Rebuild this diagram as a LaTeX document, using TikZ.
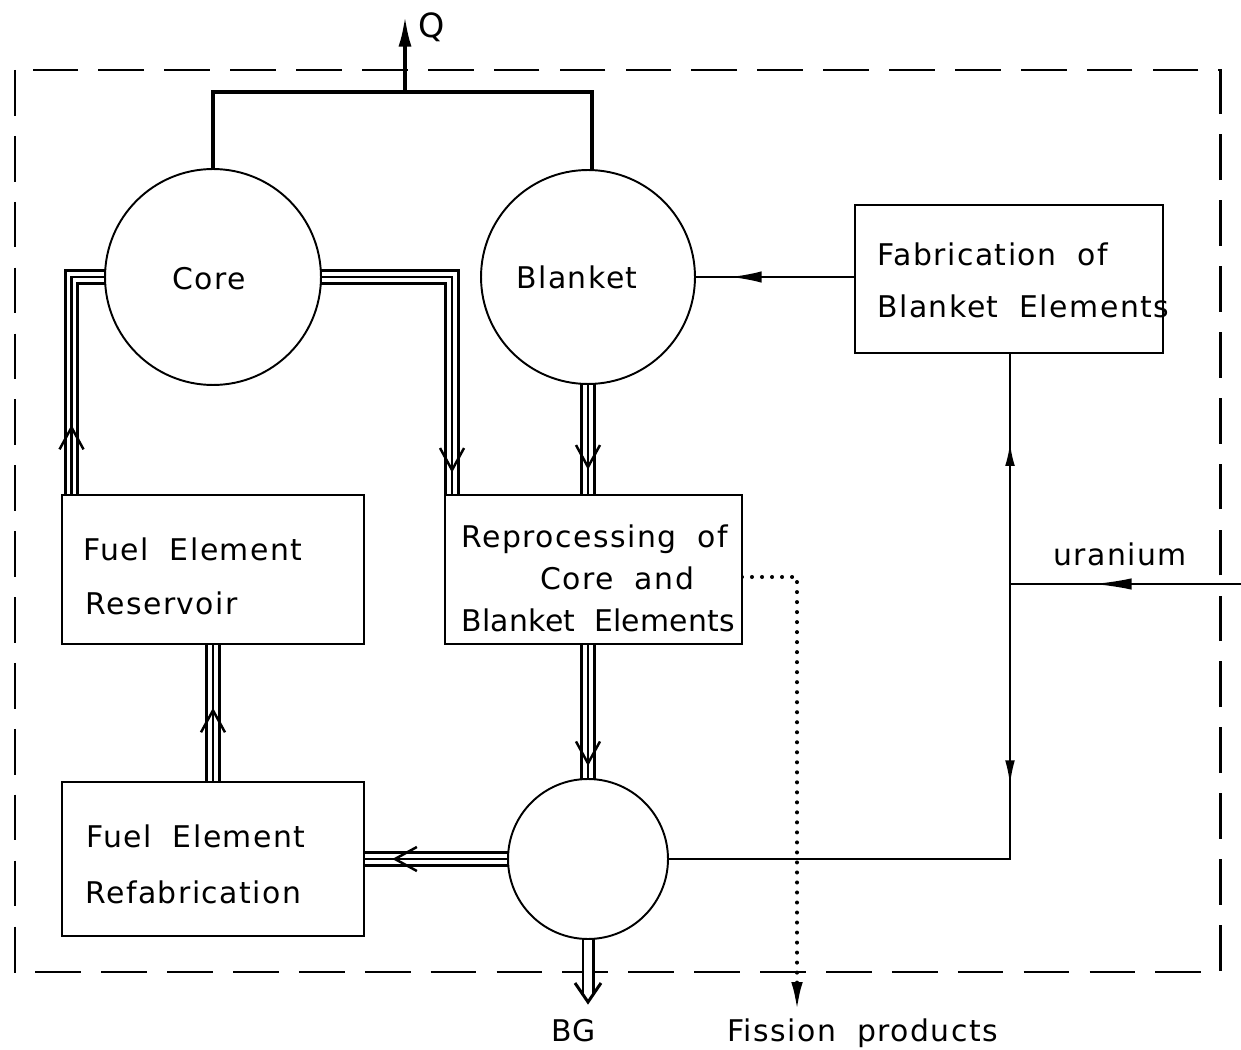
\documentclass[tikz,border=0pt]{standalone}
\usepackage{fontspec}
\setmainfont{DejaVu Sans}[WordSpace=1.9, LetterSpace=5]
\usetikzlibrary{arrows.meta,calc,decorations.markings}
\pgfdeclarelayer{bg}
\pgfsetlayers{bg,main}
\begin{document}
\begin{tikzpicture}[x=0.02cm, y=-0.02cm,
  lbl/.style={inner sep=0pt, anchor=base west, font=\fontsize{17pt}{20pt}\selectfont},
  box/.style={draw, fill=white, line width=1.4pt, rectangle, inner sep=0pt, outer sep=0pt},
  vessel/.style={draw, fill=white, line width=1.1pt, circle, inner sep=0pt, outer sep=0pt},
  heat/.style={line width=2.3pt},
  thinflow/.style={line width=1.3pt},
  triple/.style={line width=8.6pt, postaction={draw, white, line width=5.6pt}, postaction={draw, black, line width=1.5pt}},
  chev/.style={postaction={decorate, decoration={markings, mark=at position #1 with {\draw[black, line width=1.4pt] (-22,12) -- (0,0) -- (-22,-12);}}}},
  frame/.style={line width=1.7pt, dash pattern=on 26pt off 11.5pt},
  dotline/.style={line width=2.3pt, line cap=round, dash pattern=on 0pt off 5.7pt},
]
\useasboundingbox (0,0) rectangle (1241,1050);

% vessels and boxes
\node[vessel, minimum size=4.32cm] (core) at (213,277) {};
\node[vessel, minimum size=4.28cm] (blanket) at (588,277) {};
\node[vessel, minimum size=3.2cm] (mix) at (588,859) {};
\node[box, minimum width=6.16cm, minimum height=2.96cm] (fab) at (1009,279) {};
\node[box, minimum width=6.04cm, minimum height=2.98cm] (res) at (213,569.5) {};
\node[box, minimum width=5.94cm, minimum height=2.98cm] (rep) at (593.5,569.5) {};
\node[box, minimum width=6.04cm, minimum height=3.08cm] (refab) at (213,859) {};

% texts
\node[lbl] (tcore) at (172,290) {Core};
\node[lbl] (tblanket) at (516,289) {Blanket};
\node[lbl] (tfab1) at (877,266) {Fabrication of};
\node[lbl] (tfab2) at (877,318) {Blanket Elements};
\node[lbl] (tres1) at (83,561) {Fuel Element};
\node[lbl] (tres2) at (85,615) {Reservoir};
\node[lbl] (trep1) at (461,548) {Reprocessing of};
\node[lbl] (trep2) at (540,590) {Core and};
\node[lbl] (trep3) at (461,631) {\addfontfeatures{LetterSpace=1}Blanket Elements};
\node[lbl] (tref1) at (86,847) {Fuel Element};
\node[lbl] (tref2) at (85,903) {Refabrication};
\node[lbl] (tur) at (1053,566) {uranium};
\node[lbl] (tbg) at (551,1041) {BG};
\node[lbl] (tfp) at (727,1041) {Fission products};
\node[lbl, font=\fontsize{19pt}{22pt}\selectfont] (tq) at (418,38) {Q};

% helper coordinates
\coordinate (qbase) at (405,92);
\coordinate (qtip) at (405,15);
\coordinate (J) at (1010,584);
\coordinate (uin) at (1241,584);
\coordinate (uTip) at (1093,584);
\coordinate (upTip) at (1010,443);
\coordinate (dnTip) at (1010,785);
\coordinate (bTip) at (730,277);
\coordinate (fpA) at ($(rep.east)+(0,7.5)$);
\coordinate (fpB) at (797,577);
\coordinate (fpTip) at (797,1012);
\coordinate (bgEnd) at (588,994);
\coordinate (bgTip) at (588,1002);
\coordinate (crA) at ($(rep.north west)+(7,0)$);
\coordinate (rcA) at ($(res.north west)+(9.5,0)$);
\coordinate (bTop) at ($(blanket.north)+(4,0)$);

\begin{pgfonlayer}{bg}
% boundary
\draw[frame] (15,70) rectangle (1220,972);

% heat
\draw[heat] (core.north) -- (core.north |- qbase) -- (bTop |- qbase) -- (bTop);
\draw[heat, -{Latex[length=18pt,width=7.4pt]}] (qbase) -- (qtip);

% fuel flows (triple lines)
\draw[triple, chev=-14.2pt] (core.center) -- (core.center -| crA) -- (crA);
\draw[triple, chev=38.5pt] (rcA) -- (rcA |- core.center) -- (core.center);
\draw[triple, chev=-15.9pt] (blanket.center) -- (blanket.center |- rep.north);
\draw[triple, chev=-54.4pt] (mix.center |- rep.south) -- (mix.center);
\draw[triple, chev=40.8pt] (refab.north) -- (res.south);
\draw[triple, chev=-17.6pt] (mix.center) -- (refab.east);

% BG outlet
\draw[line width=1.7pt, double distance=4pt] (mix.center) -- (bgEnd);
\draw[line width=1.7pt] ($(bgTip)+(-13,-19)$) -- (bgTip) -- ($(bgTip)+(13,-19)$);

% uranium / blanket element flows
\draw[thinflow] (fab.west |- blanket.center) -- (blanket.east);
\draw[thinflow, -{Latex[length=18pt,width=6.5pt]}] ($(bTip)+(34,0)$) -- (bTip);
\draw[thinflow] (uin) -- (J);
\draw[thinflow, -{Latex[length=22pt,width=6.5pt]}] ($(uTip)+(42,0)$) -- (uTip);
\draw[thinflow] (J) -- (J |- fab.south);
\draw[thinflow, -{Latex[length=13pt,width=5.5pt]}] ($(upTip)+(0,24)$) -- (upTip);
\draw[thinflow] (J) -- (J |- mix.center) -- (mix.east);
\draw[thinflow, -{Latex[length=14pt,width=5.5pt]}] ($(dnTip)+(0,-26)$) -- (dnTip);

% fission products
\draw[dotline, -{Latex[length=17pt,width=6.5pt]}] (fpA) -- (fpB) -- (fpTip);
\end{pgfonlayer}
\end{tikzpicture}
\end{document}
